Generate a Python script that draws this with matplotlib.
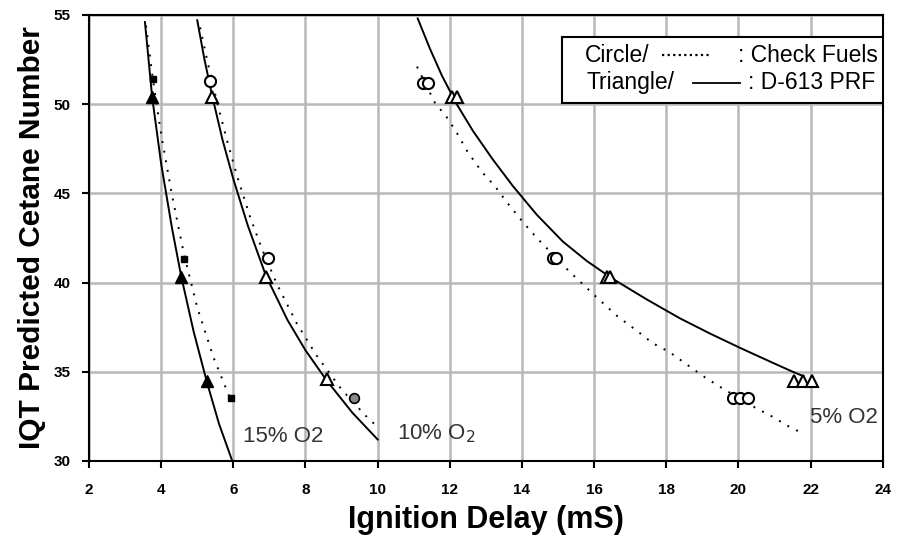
import numpy as np
import matplotlib
matplotlib.use("Agg")
import matplotlib.pyplot as plt
from matplotlib.patches import Rectangle

plt.rcParams['font.family'] = ['Liberation Sans', 'DejaVu Sans']

# ---- data ----
# 15% O2
tri15_x = [3.75, 4.55, 5.27]
tri15_y = [50.4, 40.3, 34.5]
cir15_x = [3.77, 4.63, 5.93]
cir15_y = [51.4, 41.3, 33.5]
fit15_x = [3.55, 3.75, 4.0, 4.3, 4.55, 4.9, 5.27, 5.6, 5.97]
fit15_y = [54.6, 50.4, 46.65, 43.05, 40.4, 37.25, 34.4, 32.1, 30.0]
chk15_x = [3.58, 3.77, 4.0, 4.3, 4.63, 5.0, 5.45, 5.93]
chk15_y = [54.4, 51.4, 48.3, 44.9, 41.6, 38.6, 35.8, 33.4]

# 10% O2
tri10_x = [5.41, 6.90, 8.59]
tri10_y = [50.4, 40.3, 34.6]
cir10_x = [5.35, 6.96]
cir10_y = [51.3, 41.4]
gray10_x = [9.34]
gray10_y = [33.5]
fit10_x = [5.0, 5.2, 5.41, 5.7, 6.0, 6.4, 6.9, 7.5, 8.0, 8.59, 9.3, 10.0]
fit10_y = [54.7, 52.5, 50.5, 48.0, 45.8, 43.2, 40.4, 37.9, 36.2, 34.5, 32.7, 31.2]
chk10_x = [5.08, 5.27, 5.55, 5.82, 6.10, 6.46, 6.79, 7.21, 7.76, 8.31, 9.0,
           9.73, 10.0]
chk10_y = [54.3, 52.5, 50.1, 48.0, 46.0, 43.7, 41.9, 39.9, 37.7, 35.9, 34.0,
           32.4, 31.9]

# 5% O2
tri5_x = [12.05, 12.2, 16.35, 16.45, 21.55, 21.8, 22.05]
tri5_y = [50.4, 50.4, 40.3, 40.3, 34.5, 34.5, 34.5]
cir5_x = [11.25, 11.39, 14.85, 14.95, 19.85, 20.05, 20.25]
cir5_y = [51.2, 51.2, 41.4, 41.4, 33.5, 33.5, 33.5]
fit5_x = [11.11, 11.45, 11.78, 12.19, 12.64, 13.19, 13.75, 14.41, 15.13, 15.80,
          16.52, 17.46, 18.37, 19.2, 20.03, 20.95, 21.5, 21.8]
fit5_y = [54.8, 53.1, 51.6, 50.0, 48.5, 46.9, 45.4, 43.8, 42.3, 41.2,
          40.2, 39.05, 38.0, 37.15, 36.35, 35.5, 35.0, 34.75]
chk5_x = [11.09, 11.58, 11.94, 12.22, 12.50, 12.89, 13.25, 13.58, 14.02, 14.41,
          15.32, 15.74, 16.16, 16.65, 17.18, 17.62, 18.09, 18.57, 19.06, 19.53,
          20.45, 20.92, 21.42, 21.83]
chk5_y = [52.1, 50.1, 49.2, 48.3, 47.3, 46.2, 45.4, 44.5, 43.4, 42.5,
          40.6, 39.8, 39.0, 38.1, 37.3, 36.6, 36.1, 35.4, 34.7, 34.1,
          33.0, 32.5, 31.9, 31.5]

xticks = np.arange(2, 25, 2)
yticks = np.arange(30, 56, 5)

fig = plt.figure(figsize=(8.99, 5.52), dpi=100)
ax = fig.add_axes([0.099, 0.165, 0.883, 0.808])

ax.grid(True, color='#b8b8b8', lw=1.8)
ax.set_axisbelow(True)

dots = dict(color='black', lw=1.4, ls=(0, (1, 4)))
solid = dict(color='black', lw=1.4)

ax.plot(fit15_x, fit15_y, **solid)
ax.plot(chk15_x, chk15_y, **dots)
ax.plot(fit10_x, fit10_y, **solid)
ax.plot(chk10_x, chk10_y, **dots)
ax.plot(fit5_x, fit5_y, **solid)
ax.plot(chk5_x, chk5_y, **dots)

ax.plot(tri15_x, tri15_y, '^', ms=9, mfc='black', mec='black', ls='none')
ax.plot(cir15_x, cir15_y, 's', ms=4.5, mfc='black', mec='black', ls='none')
ax.plot(tri10_x, tri10_y, '^', ms=9, mfc='white', mec='black', mew=1.5, ls='none')
ax.plot(cir10_x, cir10_y, 'o', ms=8, mfc='white', mec='black', mew=1.5, ls='none')
ax.plot(gray10_x, gray10_y, 'o', ms=7, mfc='#888888', mec='black', mew=1.2, ls='none')
ax.plot(tri5_x, tri5_y, '^', ms=9, mfc='white', mec='black', mew=1.5, ls='none')
ax.plot(cir5_x, cir5_y, 'o', ms=8, mfc='white', mec='black', mew=1.5, ls='none')

ax.text(6.27, 31.05, '15% O2', fontsize=16, color='#333333')
ax.text(10.53, 31.2, '10% O$_2$', fontsize=16, color='#333333')
ax.text(21.98, 32.1, '5% O2', fontsize=16, color='#333333')

# legend box
ax.add_patch(Rectangle((0.596, 0.803), 0.404, 0.148, transform=ax.transAxes,
                       fill=True, fc='white', ec='black', lw=1.5, zorder=5))
ax.text(0.625, 0.910, 'Circle/', transform=ax.transAxes, fontsize=16.5,
        ha='left', va='center', zorder=6)
ax.plot([0.722, 0.782], [0.910, 0.910], transform=ax.transAxes, color='black',
        lw=1.6, ls=(0, (1, 1.5)), zorder=6)
ax.text(0.994, 0.910, ': Check Fuels', transform=ax.transAxes, fontsize=16.5,
        ha='right', va='center', zorder=6)
ax.text(0.627, 0.848, 'Triangle/', transform=ax.transAxes, fontsize=16.5,
        ha='left', va='center', zorder=6)
ax.plot([0.761, 0.82], [0.848, 0.848], transform=ax.transAxes, color='black',
        lw=1.3, zorder=6)
ax.text(0.990, 0.848, ': D-613 PRF', transform=ax.transAxes, fontsize=16.5,
        ha='right', va='center', zorder=6)

ax.set_xlim(2, 24)
ax.set_ylim(30, 55)
ax.set_xticks(xticks)
ax.set_yticks(yticks)
ax.tick_params(axis='x', direction='out', length=5, width=1.5, pad=11, labelsize=11)
ax.tick_params(axis='y', direction='out', length=5, width=1.5, pad=8, labelsize=11)
for lab in ax.get_xticklabels() + ax.get_yticklabels():
    lab.set_fontweight('bold')
for s in ax.spines.values():
    s.set_linewidth(1.5)

ax.set_xlabel('Ignition Delay (mS)', fontsize=22, fontweight='bold', labelpad=6)
ax.set_ylabel('IQT Predicted Cetane Number', fontsize=21.5, fontweight='bold', labelpad=6)

fig.savefig('out.png', dpi=100)
